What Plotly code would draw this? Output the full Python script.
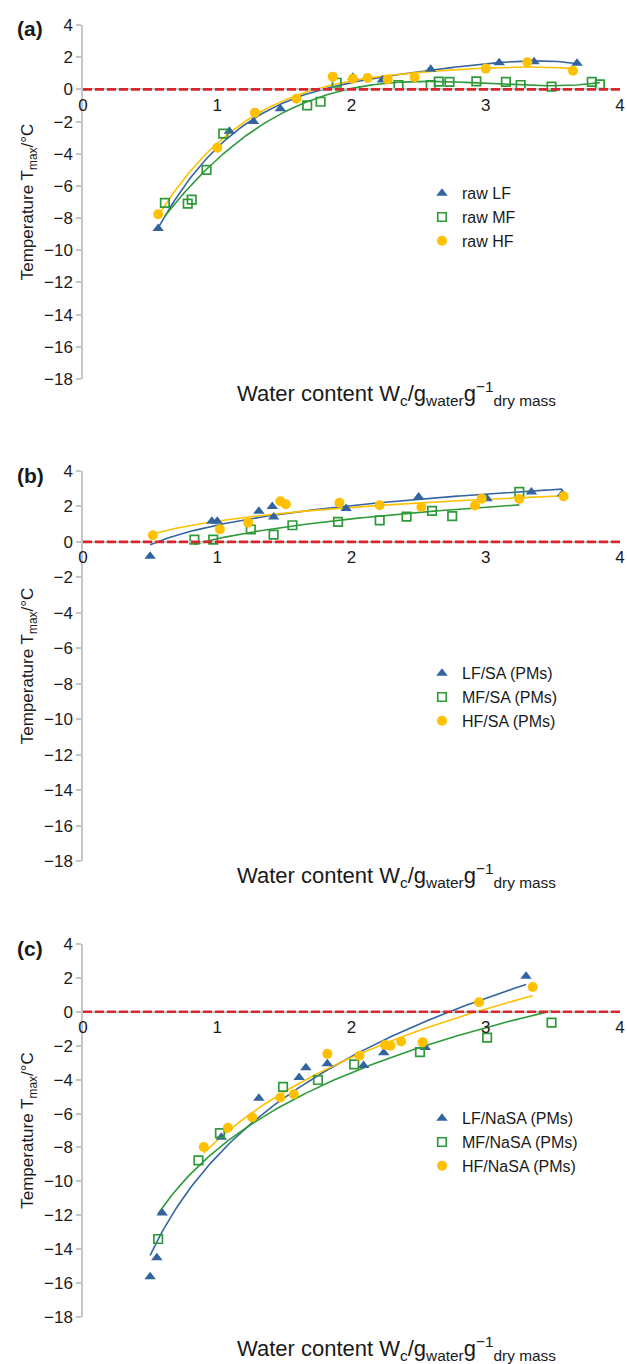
import numpy as np
import plotly.graph_objects as go

# ---------------- data ----------------
# Panel (a)
a_lf_x = [0.56, 1.09, 1.27, 1.47, 2.01, 2.23, 2.59, 3.10, 3.36, 3.68]
a_lf_y = [-8.65, -2.6, -2.0, -1.2, 0.75, 0.58, 1.25, 1.66, 1.72, 1.62]
a_mf_x = [0.61, 0.78, 0.81, 0.92, 1.045, 1.67, 1.77, 1.89, 2.35, 2.59, 2.65, 2.73, 2.93, 3.15, 3.26, 3.49, 3.79, 3.85]
a_mf_y = [-7.05, -7.1, -6.85, -5.0, -2.75, -1.0, -0.77, 0.41, 0.27, 0.27, 0.48, 0.46, 0.5, 0.46, 0.27, 0.17, 0.46, 0.31]
a_hf_x = [0.56, 1.0, 1.28, 1.59, 1.86, 2.01, 2.12, 2.27, 2.47, 3.0, 3.31, 3.65]
a_hf_y = [-7.76, -3.63, -1.45, -0.58, 0.79, 0.66, 0.71, 0.62, 0.75, 1.29, 1.68, 1.16]

# Panel (b)
b_lf_x = [0.50, 0.96, 1.0, 1.31, 1.41, 1.42, 1.96, 2.50, 3.01, 3.34, 3.57]
b_lf_y = [-0.81, 1.16, 1.16, 1.73, 2.0, 1.41, 1.88, 2.54, 2.44, 2.82, 2.7]
b_mf_x = [0.83, 0.97, 1.25, 1.42, 1.56, 1.90, 2.21, 2.41, 2.60, 2.75, 3.25]
b_mf_y = [0.13, 0.13, 0.7, 0.41, 0.94, 1.13, 1.22, 1.43, 1.75, 1.46, 2.82]
b_hf_x = [0.52, 1.02, 1.23, 1.47, 1.51, 1.91, 2.21, 2.52, 2.92, 2.97, 3.25, 3.58]
b_hf_y = [0.38, 0.71, 1.09, 2.29, 2.12, 2.21, 2.07, 1.97, 2.05, 2.44, 2.42, 2.57]

# Panel (c)
c_lf_x = [0.50, 0.55, 0.59, 1.03, 1.31, 1.61, 1.66, 1.82, 2.09, 2.24, 2.55, 3.30]
c_lf_y = [-15.62, -14.5, -11.87, -7.4, -5.1, -3.87, -3.3, -3.06, -3.17, -2.42, -2.1, 2.1]
c_mf_x = [0.56, 0.86, 1.02, 1.49, 1.75, 2.02, 2.51, 3.01, 3.49]
c_mf_y = [-13.4, -8.76, -7.16, -4.43, -4.02, -3.1, -2.38, -1.52, -0.64]
c_hf_x = [0.90, 1.08, 1.26, 1.47, 1.57, 1.82, 2.06, 2.25, 2.29, 2.37, 2.53, 2.95, 3.35]
c_hf_y = [-7.97, -6.84, -6.22, -5.05, -4.86, -2.48, -2.59, -1.95, -2.0, -1.75, -1.8, 0.56, 1.46]

x_ticks = [0, 1, 2, 3, 4]
y_ticks = [4, 2, 0, -2, -4, -6, -8, -10, -12, -14, -16, -18]

panel_labels = ["(a)", "(b)", "(c)"]
legend_names = [["raw LF", "raw MF", "raw HF"],
                ["LF/SA (PMs)", "MF/SA (PMs)", "HF/SA (PMs)"],
                ["LF/NaSA (PMs)", "MF/NaSA (PMs)", "HF/NaSA (PMs)"]]
fit_kind = ["poly4", "log", "log"]

# ---------------- style ----------------
W, H = 627, 1364
FONT = "Liberation Sans, Arial, Helvetica, sans-serif"
BLUE = "#34649f"
GREEN = "#2f9a3a"
YELLOW = "#ffc000"
RED = "#d9262c"
AXIS = "#c6c6c6"
TXT = "#1a1a1a"

# pixel geometry (top of y=4, bottom of y=-18) per panel
px_top = [25, 471, 944]
px_bot = [379, 861, 1317]
x_left, x_right = 83, 620
legend_center = [214, 694, 1139]
xtitle_y = [394, 875, 1348]


def py(p):
    return 1 - p / H


def fit_curve(xs, ys, kind):
    xs = np.asarray(xs, float)
    ys = np.asarray(ys, float)
    xx = np.linspace(xs.min(), xs.max(), 150)
    if kind.startswith("poly"):
        c = np.polyfit(xs, ys, int(kind[4:]))
        return xx, np.polyval(c, xx)
    c = np.polyfit(np.log(xs), ys, 1)
    return xx, np.polyval(c, np.log(xx))


panels = [
    [(a_lf_x, a_lf_y), (a_mf_x, a_mf_y), (a_hf_x, a_hf_y)],
    [(b_lf_x, b_lf_y), (b_mf_x, b_mf_y), (b_hf_x, b_hf_y)],
    [(c_lf_x, c_lf_y), (c_mf_x, c_mf_y), (c_hf_x, c_hf_y)],
]
colors = [BLUE, GREEN, YELLOW]
markers = [
    dict(symbol="triangle-up", size=10, color=BLUE),
    dict(symbol="square-open", size=8.5, color=GREEN, line=dict(width=1.7, color=GREEN)),
    dict(symbol="circle", size=10, color=YELLOW),
]

LEG_FONT = 16
item_h = max(LEG_FONT * 1.3, 16) + 3

fig = go.Figure()
layout = dict(
    width=W, height=H, margin=dict(l=0, r=0, t=0, b=0, autoexpand=False),
    paper_bgcolor="white", plot_bgcolor="white",
    font=dict(family=FONT, color=TXT, size=17),
    annotations=[], shapes=[],
)

for i, series in enumerate(panels):
    xa = "x" if i == 0 else f"x{i+1}"
    ya = "y" if i == 0 else f"y{i+1}"
    lg = "legend" if i == 0 else f"legend{i+1}"
    for j, (xs, ys) in enumerate(series):
        fx, fy = fit_curve(xs, ys, fit_kind[i])
        fig.add_trace(go.Scatter(x=fx, y=fy, mode="lines", xaxis=xa, yaxis=ya,
                                 line=dict(color=colors[j], width=1.6),
                                 showlegend=False, hoverinfo="skip"))
    for j, (xs, ys) in enumerate(series):
        fig.add_trace(go.Scatter(x=xs, y=ys, mode="markers", xaxis=xa, yaxis=ya,
                                 marker=markers[j], name=legend_names[i][j],
                                 legend=lg))
    y0, y1 = py(px_bot[i]), py(px_top[i])
    xpos = y0 + (0 - (-18)) / 22 * (y1 - y0)
    axkey_x = "xaxis" if i == 0 else f"xaxis{i+1}"
    axkey_y = "yaxis" if i == 0 else f"yaxis{i+1}"
    layout[axkey_x] = dict(
        domain=[x_left / W, x_right / W], range=[0, 4], tickvals=x_ticks,
        anchor="free", position=xpos, showline=True, linecolor=AXIS, linewidth=1.5,
        ticks="", showgrid=False, zeroline=False, tickfont=dict(size=17),
        automargin=False,
    )
    layout[axkey_y] = dict(
        domain=[y0, y1], range=[-18, 4], tickvals=y_ticks, anchor=xa,
        showline=True, linecolor=AXIS, linewidth=1.5, ticks="outside", ticklen=5,
        tickcolor=AXIS, tickwidth=1.5, showgrid=False, zeroline=False,
        tickfont=dict(size=17), automargin=False,
        title=dict(text="Temperature T<sub>max</sub>/°C", font=dict(size=17), standoff=6),
    )
    layout[lg] = dict(
        x=422 / W, xanchor="left", y=py(legend_center[i] - 1.5 * item_h - 2), yanchor="top",
        bgcolor="rgba(0,0,0,0)", font=dict(size=LEG_FONT), tracegroupgap=0,
    )
    layout["shapes"].append(dict(type="line", xref=xa, yref=ya, x0=0, x1=4, y0=0, y1=0,
                                 line=dict(color=RED, width=2.6, dash="9px,3px")))
    layout["annotations"].append(dict(
        text=f"<b>{panel_labels[i]}</b>", xref="paper", yref="paper",
        x=30 / W, y=py(px_top[i] + 4), xanchor="center", yanchor="middle",
        showarrow=False, font=dict(size=21)))
    layout["annotations"].append(dict(
        text="Water content W<sub>c</sub>/g<sub>water</sub>g<sup>−1</sup><sub>dry mass</sub>",
        xref="paper", yref="paper", x=396 / W, y=py(xtitle_y[i]),
        xanchor="center", yanchor="middle", showarrow=False, font=dict(size=22)))

fig.update_layout(**layout)
fig.write_html("out.html", config={"displayModeBar": False},
               post_script="document.body.style.margin='0';document.body.style.padding='0';")
